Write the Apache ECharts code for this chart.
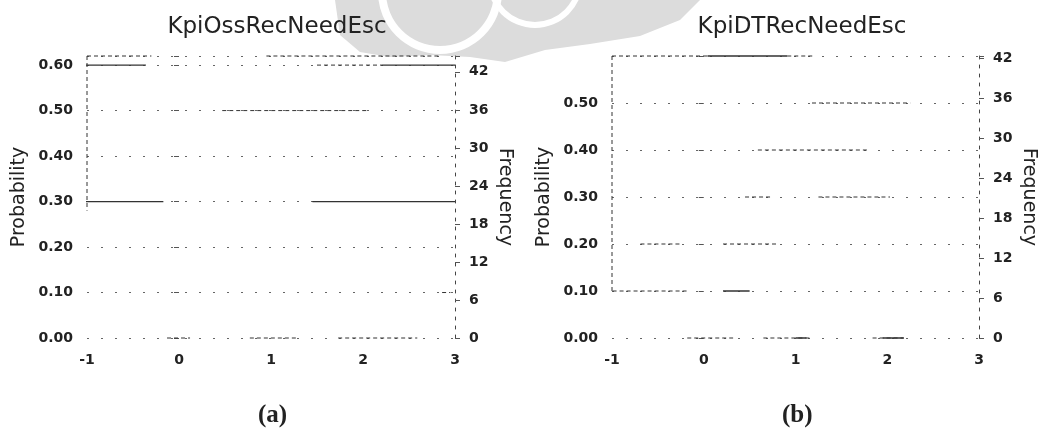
<!DOCTYPE html>
<html>
<head>
<meta charset="utf-8">
<script src="https://cdn.jsdelivr.net/npm/echarts@6/dist/echarts.min.js"></script>
<style>
  html, body { margin: 0; padding: 0; background: #fff; }
  #chart { width: 1043px; height: 437px; }
</style>
</head>
<body>
<div id="chart"></div>
<script>
// 刻度
const xTicks = [-1, 0, 1, 2, 3];
const probTicksA = [0, 0.1, 0.2, 0.3, 0.4, 0.5, 0.6];
const probTicksB = [0, 0.1, 0.2, 0.3, 0.4, 0.5];
const freqTicks = [0, 6, 12, 18, 24, 30, 36, 42];

// (a) KpiOssRecNeedEsc, strokes, '-' = break
const solidA = [
    [-1.07, 0.6], [-0.36, 0.6], '-',
    [2.2, 0.6], [3, 0.6], '-',
    [-1.08, 0.3], [-0.17, 0.3], '-',
    [1.45, 0.3], [3, 0.3]
];
const dashA = [
    [-1, 0.62], [-0.3, 0.62], '-',
    [0.95, 0.62], [2.85, 0.62], '-',
    [1.5, 0.6], [2.2, 0.6], '-',
    [0.47, 0.5], [2.04, 0.5], '-',
    [-1, 0.62], [-1, 0.28], '-',
    [-0.13, 0], [0.12, 0], '-',
    [0.77, 0], [1.28, 0], '-',
    [1.73, 0], [2.59, 0], '-',
    [2.86, 0.1], [2.95, 0.1]
];

// (b) KpiDTRecNeedEsc
const solidB = [
    [0.04, 0.6], [0.91, 0.6], '-',
    [0.21, 0.1], [0.5, 0.1], '-',
    [1.0, 0], [1.12, 0], '-',
    [1.95, 0], [2.18, 0]
];
const dashB = [
    [-1, 0.6], [0.04, 0.6], '-',
    [0.91, 0.6], [1.2, 0.6], '-',
    [-1, 0.6], [-1, 0.1], '-',
    [-1.07, 0.1], [-0.18, 0.1], '-',
    [-0.69, 0.2], [-0.24, 0.2], '-',
    [0.21, 0.2], [0.8, 0.2], '-',
    [0.45, 0.3], [0.75, 0.3], '-',
    [1.25, 0.3], [2.03, 0.3], '-',
    [0.59, 0.4], [1.81, 0.4], '-',
    [1.18, 0.5], [2.25, 0.5], '-',
    [-0.18, 0], [0.32, 0], '-',
    [0.65, 0], [1.16, 0], '-',
    [1.84, 0], [2.18, 0]
];

function inList(v, list){
    return list.some(t => Math.abs(t - v) < 1e-6);
}

const ink = '#222';
const tickFont = { color: ink, fontFamily: 'DejaVu Sans', fontWeight: 'bold', fontSize: 14 };
const nameFont = { color: ink, fontFamily: 'DejaVu Sans', fontSize: 19 };
const titleFont = { color: ink, fontFamily: 'DejaVu Sans', fontWeight: 'normal', fontSize: 23 };

function xAxisOf(gi){
    return {
        type: 'value', gridIndex: gi, min: -1, max: 3, interval: 1,
        axisLine: { show: false }, axisTick: { show: false }, splitLine: { show: false },
        axisLabel: Object.assign({ margin: 15, formatter: v => inList(v, xTicks) ? String(v) : '' }, tickFont)
    };
}
function probAxisOf(gi, max, labels){
    return {
        type: 'value', gridIndex: gi, position: 'left', min: 0, max: max, interval: 0.1,
        name: 'Probability', nameLocation: 'middle', nameGap: 58, nameTextStyle: nameFont,
        axisLine: { show: false },
        axisTick: { show: true, length: 5, lineStyle: { color: '#555' } },
        axisLabel: Object.assign({ margin: 14, showMaxLabel: true,
            formatter: v => inList(v, labels) ? v.toFixed(2) : '' }, tickFont),
        splitLine: { show: true, lineStyle: { color: '#666', width: 1, type: [2, 12] } }
    };
}
function freqAxisOf(gi, max){
    return {
        type: 'value', gridIndex: gi, position: 'right', min: 0, max: max, interval: 6,
        name: 'Frequency', nameLocation: 'middle', nameGap: 40, nameRotate: -90, nameTextStyle: nameFont,
        axisLine: { show: true, lineStyle: { color: '#444', width: 1, type: [3, 6] } },
        axisTick: { show: true, length: 5, lineStyle: { color: '#555' } },
        axisLabel: Object.assign({ margin: 14,
            formatter: v => inList(v, freqTicks) ? String(v) : '' }, tickFont),
        splitLine: { show: false }
    };
}
function strokeSeries(data, xi, yi, dashed){
    return {
        type: 'line', xAxisIndex: xi, yAxisIndex: yi, data: data,
        symbol: 'none', clip: false, connectNulls: false, silent: true,
        lineStyle: dashed ? { color: '#333', width: 1, type: [4, 3] } : { color: '#333', width: 1.3 }
    };
}

let myChart = echarts.init(document.getElementById('chart'));
let option = {
    animation: false,
    backgroundColor: '#fff',
    title: [
        { text: 'KpiOssRecNeedEsc', left: 272, top: 11, textAlign: 'center', textStyle: titleFont },
        { text: 'KpiDTRecNeedEsc', left: 797, top: 11, textAlign: 'center', textStyle: titleFont }
    ],
    grid: [
        { left: 87, top: 56, width: 368, height: 282 },
        { left: 612, top: 56, width: 367, height: 282 }
    ],
    xAxis: [xAxisOf(0), xAxisOf(1)],
    yAxis: [probAxisOf(0, 0.62, probTicksA), freqAxisOf(0, 44.5),
            probAxisOf(1, 0.6, probTicksB), freqAxisOf(1, 42.3)],
    series: [
        strokeSeries(solidA, 0, 0, false),
        strokeSeries(dashA, 0, 0, true),
        strokeSeries(solidB, 1, 2, false),
        strokeSeries(dashB, 1, 2, true)
    ],
    graphic: [
        // 背景水印
        { type: 'polygon', z: -10, silent: true,
          shape: { points: [[335,0],[700,0],[680,20],[640,36],[590,44],[545,50],[505,62],[470,57],[430,55],[390,57],[360,52],[340,35]] },
          style: { fill: '#dcdcdc' } },
        { type: 'ring', z: -9, silent: true, shape: { cx: 440, cy: -8, r: 62, r0: 54 }, style: { fill: '#fff' } },
        { type: 'ring', z: -9, silent: true, shape: { cx: 535, cy: -20, r: 48, r0: 42 }, style: { fill: '#fff' } },
        { type: 'text', left: 258, top: 403, style: { text: '(a)', fill: ink, font: 'bold 25px "Liberation Serif"' } },
        { type: 'text', left: 782, top: 403, style: { text: '(b)', fill: ink, font: 'bold 25px "Liberation Serif"' } }
    ]
};
myChart.setOption(option);
</script>
</body>
</html>
